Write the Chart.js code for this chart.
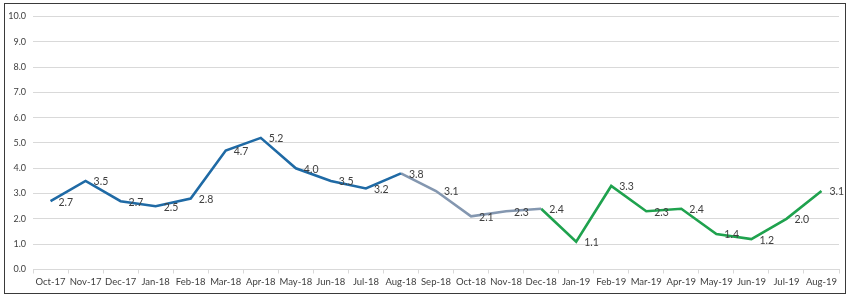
<!DOCTYPE html>
<html><head><meta charset="utf-8">
<script src="https://cdn.jsdelivr.net/npm/chart.js@4/dist/chart.umd.min.js"></script>
<style>
html,body{margin:0;padding:0;background:#fff;}
#frame{position:absolute;left:4px;top:3px;width:840px;height:289px;border:1.5px solid #3a3a3a;background:#fff;}
#wrap{position:absolute;left:0;top:0;width:840px;height:289px;}
</style></head><body>
<div id="frame"><div id="wrap"><canvas id="c"></canvas></div></div>
<script>
const categories = ["Oct-17","Nov-17","Dec-17","Jan-18","Feb-18","Mar-18","Apr-18","May-18","Jun-18","Jul-18","Aug-18","Sep-18","Oct-18","Nov-18","Dec-18","Jan-19","Feb-19","Mar-19","Apr-19","May-19","Jun-19","Jul-19","Aug-19"];
const bluePart  = [2.7,3.5,2.7,2.5,2.8,4.7,5.2,4.0,3.5,3.2,3.8,null,null,null,null,null,null,null,null,null,null,null,null];
const grayPart  = [null,null,null,null,null,null,null,null,null,null,3.8,3.1,2.1,2.3,2.4,null,null,null,null,null,null,null,null];
const greenPart = [null,null,null,null,null,null,null,null,null,null,null,null,null,null,2.4,1.1,3.3,2.3,2.4,1.4,1.2,2.0,3.1];
// which dataset labels which point (each point labeled once)
const labelFrom = [0,0,0,0,0,0,0,0,0,0,0,1,1,1,2,2,2,2,2,2,2,2,2];
const yTicks = {min:0, max:10, step:1};

const FONT = "Lato, 'Liberation Sans', sans-serif";

const labelPlugin = {
  id:'pointLabels',
  afterDatasetsDraw(chart){
    const ctx = chart.ctx;
    ctx.save();
    ctx.font = "10.5px " + FONT;
    ctx.fillStyle = "#404040";
    ctx.textAlign = "left";
    ctx.textBaseline = "middle";
    chart.data.datasets.forEach((ds, di) => {
      const meta = chart.getDatasetMeta(di);
      meta.data.forEach((pt, i) => {
        const v = ds.data[i];
        if (v === null || labelFrom[i] !== di) return;
        ctx.fillText(v.toFixed(1), pt.x + 8, pt.y + 1);
      });
    });
    ctx.restore();
  }
};

const common = {borderWidth:2.6, pointRadius:0, pointHoverRadius:0, tension:0, fill:false, spanGaps:false, borderJoinStyle:'miter'};

new Chart(document.getElementById('c'), {
  type:'line',
  data:{
    labels:categories,
    datasets:[
      Object.assign({label:'a', data:bluePart, borderColor:'#1f6aa5'}, common),
      Object.assign({label:'b', data:grayPart, borderColor:'#8497b0'}, common),
      Object.assign({label:'c', data:greenPart, borderColor:'#1fa24e'}, common)
    ]
  },
  options:{
    responsive:true, maintainAspectRatio:false, animation:false,
    layout:{padding:{left:0, right:6, top:11, bottom:0}},
    plugins:{legend:{display:false}, tooltip:{enabled:false}},
    scales:{
      x:{
        offset:true,
        afterFit(s){ s.height = 23.5; },
        grid:{offset:true, drawOnChartArea:false, drawTicks:true, tickLength:4, color:'#d9d9d9'},
        border:{display:true, color:'#d9d9d9'},
        ticks:{color:'#404040', font:{family:FONT, size:9.5}, maxRotation:0, autoSkip:false, padding:3}
      },
      y:{
        min:yTicks.min, max:yTicks.max,
        afterFit(s){ s.width = 28; },
        grid:{color:'#d9d9d9', drawTicks:false, lineWidth:1},
        border:{display:false},
        ticks:{stepSize:yTicks.step, color:'#404040', font:{family:FONT, size:9}, padding:7, callback:v=>v.toFixed(1)}
      }
    }
  },
  plugins:[labelPlugin]
});
</script>
</body></html>
